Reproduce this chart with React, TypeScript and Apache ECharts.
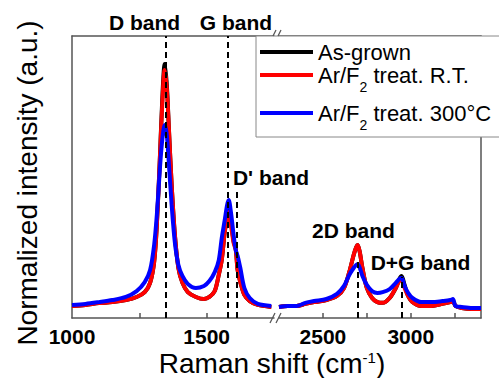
import React, { useEffect, useRef } from 'react';
import * as echarts from 'echarts';

// Raman shift (cm-1) sample positions, left segment (1000-1750) and right segment (2250-3400)
const leftShift = [1000, 1050, 1100, 1150, 1200, 1240, 1270, 1290, 1305, 1315, 1326, 1335, 1344, 1352, 1360, 1370, 1382, 1395, 1410, 1430, 1460, 1490, 1510, 1530, 1545, 1556, 1567, 1576, 1582, 1590, 1600, 1608, 1615, 1625, 1640, 1660, 1690, 1740];
const rightShift = [2250, 2300, 2350, 2400, 2450, 2520, 2580, 2620, 2650, 2675, 2690, 2698, 2710, 2725, 2750, 2780, 2810, 2840, 2880, 2915, 2935, 2948, 2965, 2985, 3010, 3060, 3120, 3180, 3225, 3240, 3255, 3290, 3350, 3400];

const asGrownLeft = [0.047, 0.051, 0.058, 0.062, 0.070, 0.082, 0.101, 0.137, 0.218, 0.363, 0.616, 0.850, 0.991, 0.910, 0.733, 0.519, 0.324, 0.195, 0.137, 0.101, 0.082, 0.074, 0.082, 0.105, 0.168, 0.226, 0.335, 0.395, 0.420, 0.380, 0.300, 0.270, 0.187, 0.140, 0.090, 0.066, 0.051, 0.043];
const rtLeft = [0.047, 0.051, 0.058, 0.062, 0.070, 0.082, 0.101, 0.137, 0.218, 0.363, 0.616, 0.831, 0.967, 0.897, 0.733, 0.519, 0.324, 0.195, 0.137, 0.101, 0.082, 0.074, 0.082, 0.105, 0.168, 0.226, 0.335, 0.390, 0.413, 0.363, 0.293, 0.265, 0.187, 0.140, 0.090, 0.066, 0.051, 0.043];
const hotLeft = [0.051, 0.055, 0.062, 0.070, 0.082, 0.105, 0.140, 0.187, 0.285, 0.402, 0.577, 0.694, 0.753, 0.714, 0.597, 0.441, 0.293, 0.207, 0.164, 0.133, 0.117, 0.125, 0.144, 0.179, 0.226, 0.312, 0.382, 0.441, 0.460, 0.413, 0.324, 0.265, 0.242, 0.195, 0.117, 0.078, 0.055, 0.047];

const asGrownRight = [0.043, 0.047, 0.047, 0.055, 0.062, 0.070, 0.086, 0.117, 0.179, 0.246, 0.277, 0.285, 0.257, 0.195, 0.117, 0.078, 0.062, 0.059, 0.078, 0.117, 0.152, 0.164, 0.129, 0.086, 0.062, 0.047, 0.047, 0.055, 0.062, 0.066, 0.047, 0.039, 0.035, 0.035];
const rtRight = [0.043, 0.047, 0.047, 0.055, 0.062, 0.070, 0.086, 0.117, 0.179, 0.246, 0.277, 0.285, 0.257, 0.195, 0.117, 0.078, 0.062, 0.059, 0.078, 0.117, 0.144, 0.148, 0.117, 0.086, 0.062, 0.047, 0.047, 0.055, 0.062, 0.066, 0.047, 0.039, 0.035, 0.035];
const hotRight = [0.043, 0.047, 0.047, 0.059, 0.066, 0.074, 0.094, 0.125, 0.168, 0.195, 0.207, 0.211, 0.195, 0.164, 0.129, 0.105, 0.098, 0.101, 0.113, 0.137, 0.152, 0.156, 0.125, 0.098, 0.078, 0.062, 0.062, 0.066, 0.070, 0.074, 0.047, 0.043, 0.039, 0.039];

const seriesNames = ['As-grown', 'Ar/F2 treat. R.T.', 'Ar/F2 treat. 300°C'];
const seriesColors = ['#000000', '#ff0000', '#0000ff'];

const leftBands = [1348, 1578, 1611];
const leftBandTops = [1.1, 1.1, 0.5];
const rightBands = [2699, 2949];
const rightBandTops = [0.234, 0.16];

const leftTicks = [1250, 1500];
const leftLabels = [1000, 1500];
const rightTicks = [2500, 2750, 3000, 3250];
const rightLabels = [2500, 3000];

const FONT = "'Liberation Sans', Arial, sans-serif";
const AXIS_COLOR = '#555';

export default function App() {
  const ref = useRef<HTMLDivElement>(null);
  useEffect(() => {
    if (!ref.current) return;
    const chart = echarts.init(ref.current, undefined, { renderer: 'svg' });

    const mk = (i: number, xs: number[], ys: number[], axis: number) => ({
      name: seriesNames[i],
      type: 'line',
      xAxisIndex: axis,
      yAxisIndex: axis,
      data: xs.map((x, k) => [x, ys[k]]),
      showSymbol: false,
      symbol: 'none',
      smooth: 0.3,
      lineStyle: { color: seriesColors[i], width: 4 },
      itemStyle: { color: seriesColors[i] },
      z: 2,
    });

    const markLineStyle = {
      symbol: ['none', 'none'],
      silent: true,
      label: { show: false },
      lineStyle: { type: [6, 4], color: '#000', width: 2 },
      animation: false,
    };

    const bottomAxis = (grid: number, min: number, max: number, ticks: number[], labels: number[]) => ({
      type: 'value',
      gridIndex: grid,
      position: 'bottom',
      min,
      max,
      interval: 250,
      axisLine: { show: true, lineStyle: { color: AXIS_COLOR, width: 1.5 } },
      axisTick: { show: true, inside: true, length: 5, customValues: ticks, lineStyle: { color: AXIS_COLOR, width: 1.5 } },
      axisLabel: {
        customValues: labels,
        formatter: (v: number) => (labels.includes(v) ? String(v) : ''),
        fontSize: 21,
        fontWeight: 'bold',
        fontFamily: FONT,
        color: '#000',
        margin: 8,
      },
      splitLine: { show: false },
    });
    const topAxis = (grid: number, min: number, max: number) => ({
      type: 'value',
      gridIndex: grid,
      position: 'top',
      min,
      max,
      axisLine: { show: true, lineStyle: { color: AXIS_COLOR, width: 1.5 } },
      axisTick: { show: false },
      axisLabel: { show: false },
      splitLine: { show: false },
    });
    const yAxis = (grid: number, pos: string) => ({
      type: 'value',
      gridIndex: grid,
      position: pos,
      min: 0,
      max: 1.1,
      axisLine: { show: true, lineStyle: { color: AXIS_COLOR, width: 1.5 } },
      axisTick: { show: false },
      axisLabel: { show: false },
      splitLine: { show: false },
    });

    const legendFormatter = (name: string) => {
      if (name.startsWith('Ar/F2')) return '{t|Ar/F}{sub|2}{t|' + name.slice(5) + '}';
      return '{t|' + name + '}';
    };
    const legendRich = {
      t: { fontSize: 22, lineHeight: 22, fontFamily: FONT, color: '#000', verticalAlign: 'middle' },
      sub: { fontSize: 14, lineHeight: 14, fontFamily: FONT, color: '#000', padding: [16, 0, 0, 0], verticalAlign: 'top' },
    };
    const legendTops = [41, 64, 102];
    const legends = seriesNames.map((n, i) => ({
      data: [n],
      left: 260,
      top: legendTops[i],
      padding: 0,
      orient: 'vertical',
      icon: 'rect',
      itemWidth: 53,
      itemHeight: 4,
      selectedMode: false,
      formatter: legendFormatter,
      textStyle: { rich: legendRich, fontSize: 22, fontFamily: FONT, color: '#000' },
      z: 6,
    }));

    const bandText = (text: string, x: number, y: number) => ({
      type: 'text',
      x,
      y,
      z: 10,
      style: {
        text,
        textAlign: 'center',
        textVerticalAlign: 'middle',
        fontSize: 21,
        fontWeight: 'bold',
        fontFamily: FONT,
        fill: '#000',
      },
    });
    const slash = (x1: number, y1: number, x2: number, y2: number) => ({
      type: 'line',
      z: 10,
      shape: { x1, y1, x2, y2 },
      style: { stroke: AXIS_COLOR, lineWidth: 1.2 },
    });

    chart.setOption({
      animation: false,
      backgroundColor: '#fff',
      grid: [
        { left: 72, top: 36, width: 202, height: 282 },
        { left: 279, top: 36, width: 202, height: 282 },
      ],
      xAxis: [
        bottomAxis(0, 1000, 1750, leftTicks, leftLabels),
        bottomAxis(1, 2250, 3400, rightTicks, rightLabels),
        topAxis(0, 1000, 1750),
        topAxis(1, 2250, 3400),
      ],
      yAxis: [yAxis(0, 'left'), yAxis(1, 'right')],
      legend: legends,
      series: [
        mk(0, leftShift, asGrownLeft, 0),
        mk(1, leftShift, rtLeft, 0),
        mk(2, leftShift, hotLeft, 0),
        mk(0, rightShift, asGrownRight, 1),
        mk(1, rightShift, rtRight, 1),
        mk(2, rightShift, hotRight, 1),
        {
          type: 'line',
          name: 'bands-left',
          xAxisIndex: 0,
          yAxisIndex: 0,
          data: [],
          z: 5,
          markLine: {
            ...markLineStyle,
            data: leftBands.map((b, i) => [{ coord: [b, 0] }, { coord: [b, leftBandTops[i]] }]),
          },
        },
        {
          type: 'line',
          name: 'bands-right',
          xAxisIndex: 1,
          yAxisIndex: 1,
          data: [],
          z: 5,
          markLine: {
            ...markLineStyle,
            data: rightBands.map((b, i) => [{ coord: [b, 0] }, { coord: [b, rightBandTops[i]] }]),
          },
        },
      ],
      graphic: [
        {
          type: 'rect',
          z: 5,
          shape: { x: 256, y: 36, width: 260, height: 101 },
          style: { fill: '#fff', stroke: '#888', lineWidth: 1 },
        },
        bandText('D band', 144.5, 22),
        bandText('G band', 236, 22),
        bandText("D' band", 271, 177),
        bandText('2D band', 353.5, 230),
        bandText('D+G band', 420.5, 262),
        slash(270, 323, 275, 313),
        slash(276, 323, 281, 313),
        slash(273, 36, 276, 30),
        slash(278, 36, 281, 30),
        {
          type: 'text',
          x: 27,
          y: 183,
          rotation: Math.PI / 2,
          z: 10,
          style: {
            text: 'Normalized intensity (a.u.)',
            textAlign: 'center',
            textVerticalAlign: 'middle',
            fontSize: 28,
            fontFamily: FONT,
            fill: '#000',
          },
        },
        {
          type: 'text',
          x: 272,
          y: 363,
          z: 10,
          style: {
            text: '{a|Raman shift (cm}{s|-1}{a|)}',
            textAlign: 'center',
            textVerticalAlign: 'middle',
            fontFamily: FONT,
            fill: '#000',
            rich: {
              a: { fontSize: 28, lineHeight: 26, fontFamily: FONT, fill: '#000', verticalAlign: 'middle' },
              s: { fontSize: 15, lineHeight: 13, fontFamily: FONT, fill: '#000', verticalAlign: 'top' },
            },
          },
        },
      ],
    });
    return () => chart.dispose();
  }, []);
  return (
    <div
      ref={ref}
      style={{ position: 'absolute', left: 0, top: 0, width: 499, height: 378 }}
    />
  );
}
